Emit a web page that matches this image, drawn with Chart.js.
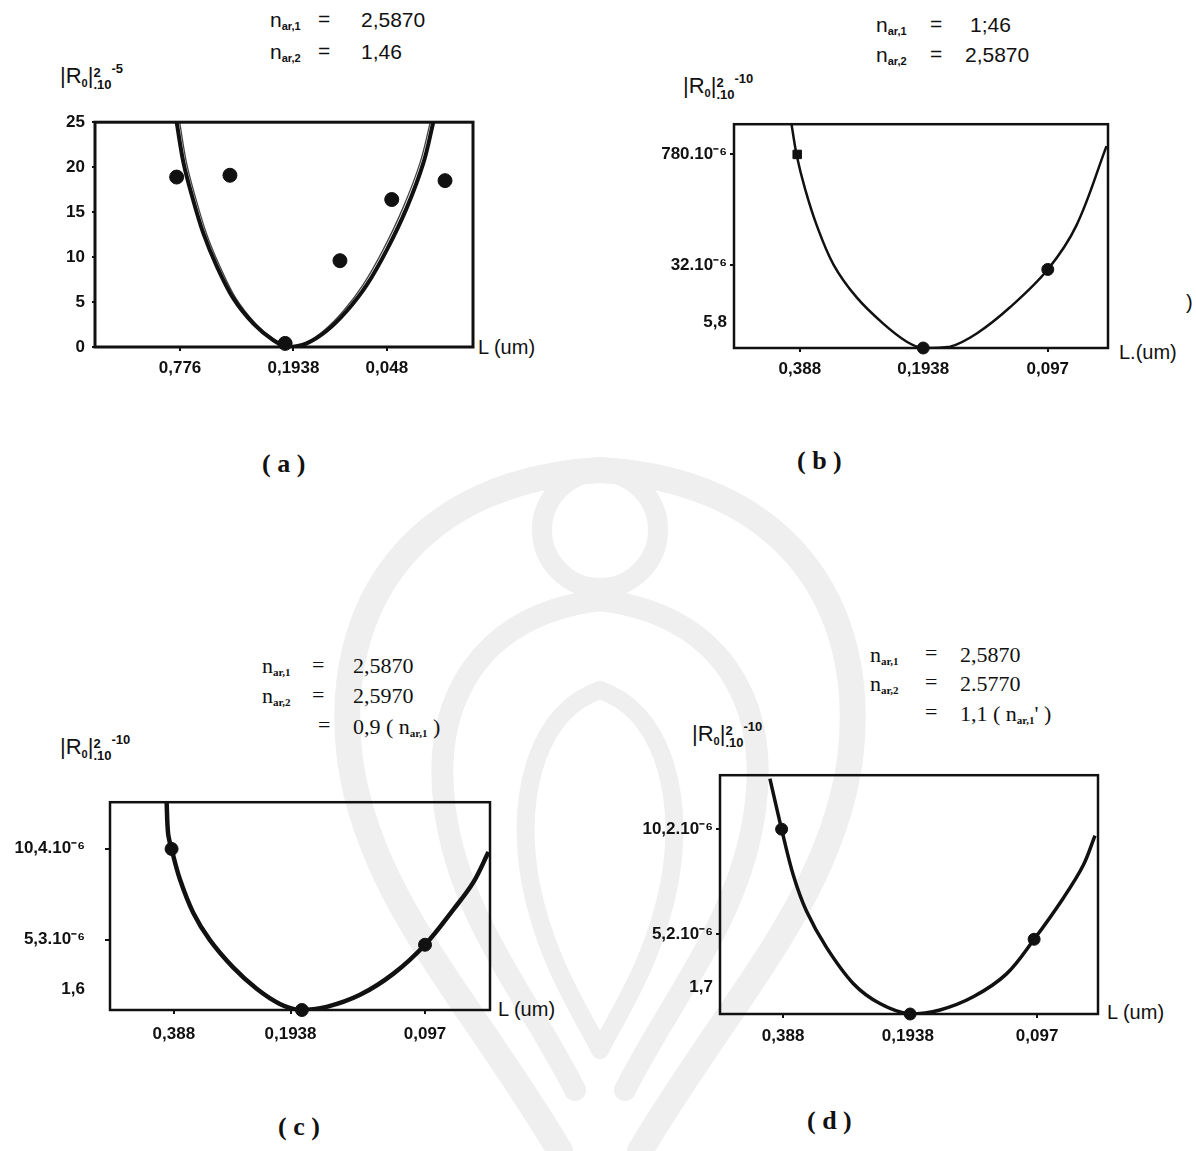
<!DOCTYPE html>
<html>
<head>
<meta charset="utf-8">
<script src="https://cdn.jsdelivr.net/npm/chart.js@4.4.0/dist/chart.umd.min.js"></script>
<style>
  html, body { margin: 0; padding: 0; background: #fff; }
  #page { position: relative; width: 1196px; height: 1151px; overflow: hidden; background: #fff; }
  #mark { position: absolute; left: 0; top: 0; }
  .panel { position: absolute; }
  .txt { position: absolute; color: #111; font-family: "Liberation Sans", Arial, sans-serif; white-space: nowrap; line-height: 1; }
  .ann { font-size: 21px; }
  .ann.serif { font-family: "Liberation Serif", "Times New Roman", serif; font-size: 22px; }
  .ann sub { font-size: 11px; vertical-align: -3px; font-weight: bold; }
  .ytitle { font-size: 22px; }
  .ytitle .r0 { font-size: 11px; vertical-align: -4px; font-weight: bold; }
  .stk { display: inline-block; vertical-align: -6px; font-size: 13px; line-height: 12px; font-weight: bold; }
  .stk span { display: block; }
  .ex { font-size: 13px; vertical-align: 10px; font-weight: bold; }
  .lum { font-size: 20px; }
  .cap { font-family: "Liberation Serif", "DejaVu Serif", serif; font-weight: bold; font-size: 26px; }
</style>
</head>
<body>
<div id="page">
  <!-- faint watermark of the scanned page -->
  <svg id="mark" width="1196" height="1151" viewBox="0 0 1196 1151">
    <g fill="none" stroke="#efefef" stroke-linecap="round">
      <circle cx="600" cy="530" r="58" stroke-width="20"/>
      <path d="M600 470 C420 480 330 600 350 760 C370 900 470 1000 560 1151" stroke-width="26"/>
      <path d="M600 470 C780 480 870 600 850 760 C830 900 730 1000 640 1151" stroke-width="26"/>
      <path d="M600 600 C480 615 430 700 445 810 C460 920 530 1000 575 1090" stroke-width="22"/>
      <path d="M600 600 C720 615 770 700 755 810 C740 920 670 1000 625 1090" stroke-width="22"/>
      <path d="M600 690 C540 710 515 790 530 880 C545 960 580 1010 600 1050" stroke-width="18"/>
      <path d="M600 690 C660 710 685 790 670 880 C655 960 620 1010 600 1050" stroke-width="18"/>
    </g>
  </svg>

  <!-- (a) -->
  <div class="txt ann" style="left:270px;top:9px">n<sub>ar,1</sub></div>
  <div class="txt ann" style="left:318px;top:8px">=</div>
  <div class="txt ann" style="left:361px;top:9px">2,5870</div>
  <div class="txt ann" style="left:270px;top:41px">n<sub>ar,2</sub></div>
  <div class="txt ann" style="left:318px;top:40px">=</div>
  <div class="txt ann" style="left:361px;top:41px">1,46</div>
  <div class="txt ytitle" style="left:60px;top:62px">|R<span class="r0">0</span>|<span class="stk"><span>2</span><span>.10</span></span><span class="ex">-5</span></div>
  <div class="txt lum" style="left:478px;top:337px">L (um)</div>
  <div class="txt cap" style="left:262px;top:451px">( a )</div>

  <!-- (b) -->
  <div class="txt ann" style="left:876px;top:14px">n<sub>ar,1</sub></div>
  <div class="txt ann" style="left:930px;top:13px">=</div>
  <div class="txt ann" style="left:970px;top:14px">1;46</div>
  <div class="txt ann" style="left:876px;top:44px">n<sub>ar,2</sub></div>
  <div class="txt ann" style="left:930px;top:43px">=</div>
  <div class="txt ann" style="left:965px;top:44px">2,5870</div>
  <div class="txt ytitle" style="left:683px;top:72px">|R<span class="r0">0</span>|<span class="stk"><span>2</span><span>.10</span></span><span class="ex">-10</span></div>
  <div class="txt lum" style="left:1119px;top:342px">L.(um)</div>
  <div class="txt lum" style="left:1186px;top:292px">)</div>
  <div class="txt cap" style="left:797px;top:448px">( b )</div>

  <!-- (c) -->
  <div class="txt ann serif" style="left:262px;top:655px">n<sub>ar,1</sub></div>
  <div class="txt ann serif" style="left:312px;top:654px">=</div>
  <div class="txt ann serif" style="left:353px;top:655px">2,5870</div>
  <div class="txt ann serif" style="left:262px;top:685px">n<sub>ar,2</sub></div>
  <div class="txt ann serif" style="left:312px;top:684px">=</div>
  <div class="txt ann serif" style="left:353px;top:685px">2,5970</div>
  <div class="txt ann serif" style="left:318px;top:714px">=</div>
  <div class="txt ann serif" style="left:353px;top:716px">0,9 ( n<sub>ar,1</sub> )</div>
  <div class="txt ytitle" style="left:60px;top:733px">|R<span class="r0">0</span>|<span class="stk"><span>2</span><span>.10</span></span><span class="ex">-10</span></div>
  <div class="txt lum" style="left:498px;top:999px">L (um)</div>
  <div class="txt cap" style="left:278px;top:1114px">( c )</div>

  <!-- (d) -->
  <div class="txt ann serif" style="left:870px;top:644px">n<sub>ar,1</sub></div>
  <div class="txt ann serif" style="left:925px;top:642px">=</div>
  <div class="txt ann serif" style="left:960px;top:644px">2,5870</div>
  <div class="txt ann serif" style="left:870px;top:673px">n<sub>ar,2</sub></div>
  <div class="txt ann serif" style="left:925px;top:671px">=</div>
  <div class="txt ann serif" style="left:960px;top:673px">2.5770</div>
  <div class="txt ann serif" style="left:925px;top:701px">=</div>
  <div class="txt ann serif" style="left:960px;top:703px">1,1 ( n<sub>ar,1</sub>' )</div>
  <div class="txt ytitle" style="left:692px;top:720px">|R<span class="r0">0</span>|<span class="stk"><span>2</span><span>.10</span></span><span class="ex">-10</span></div>
  <div class="txt lum" style="left:1107px;top:1002px">L (um)</div>
  <div class="txt cap" style="left:807px;top:1108px">( d )</div>
</div>

<script>
// ---- panel (a) : |R0|^2 .10^-5 ----
const aCurveX = [21.6, 23.4, 25.6, 28.7, 32.2, 36.6, 41.9, 47.2, 51.1, 56.0, 61.3, 66.6, 71.9, 77.2, 82.5, 86.9, 89.5];
const aCurveY = [25, 20.5, 16.9, 12.6, 9.0, 5.4, 2.6, 0.75, 0, 0.4, 1.8, 4.0, 6.9, 10.8, 15.5, 20.5, 25];
const aInnerX = [22.4, 24.2, 26.4, 29.5, 33.0, 37.3, 42.5, 47.7, 51.3, 55.4, 60.5, 65.7, 70.9, 76.2, 81.5, 86.0, 88.7];
const aInnerY = [25, 20.5, 16.9, 12.6, 9.0, 5.4, 2.6, 0.75, 0, 0.4, 1.8, 4.0, 6.9, 10.8, 15.5, 20.5, 25];
const aPointsX = [21.6, 35.7, 50.3, 64.8, 78.5, 92.6];
const aPointsY = [18.9, 19.1, 0.4, 9.6, 16.4, 18.5];
const aXTicks = [22.5, 52.5, 77.2];
const aXLabels = ['0,776', '0,1938', '0,048'];
const aYTicks = [0, 5, 10, 15, 20, 25];
const aYLabels = ['0', '5', '10', '15', '20', '25'];

// ---- panel (b) : nar1 = 1,46  nar2 = 2,5870 ----
const bCurveX = [15.4, 16.8, 19.0, 22.1, 26.6, 32.8, 39.9, 46.2, 50.6, 57.8, 64.9, 73.8, 83.9, 91.6, 99.6];
const bCurveY = [99.7, 85.8, 71.1, 54.9, 37.3, 22.6, 10.9, 2.8, 0, 0.6, 6.5, 18.2, 35.1, 54.9, 90.2];
const bPointsX = [16.9, 50.6, 83.9];
const bPointsY = [86.5, 0, 35.1];
const bXTicks = [17.6, 50.6, 83.9];
const bXLabels = ['0,388', '0,1938', '0,097'];
const bYTicks = [11.6, 37.0, 86.5];
const bYLabels = ['5,8', '32.10⁻⁶', '780.10⁻⁶'];

// ---- panel (c) : nar2 = 0,9 nar1 ----
const cCurveX = [14.9, 15.3, 16.2, 18.4, 21.9, 26.3, 32.4, 38.6, 44.7, 50.0, 57.0, 65.8, 74.6, 82.9, 90.3, 95.6, 99.6];
const cCurveY = [100, 84.8, 77.5, 62.9, 46.8, 33.6, 20.5, 10.2, 2.9, 0, 1.5, 7.3, 17.5, 31.4, 48.2, 61.4, 76.0];
const cPointsX = [16.2, 50.5, 82.9];
const cPointsY = [77.5, 0, 31.4];
const cXTicks = [16.8, 47.5, 82.9];
const cXLabels = ['0,388', '0,1938', '0,097'];
const cYTicks = [10.1, 33.8, 77.6];
const cYLabels = ['1,6', '5,3.10⁻⁶', '10,4.10⁻⁶'];

// ---- panel (d) : nar2 = 1,1 nar1 ----
const dCurveX = [13.2, 16.3, 19.4, 22.9, 28.2, 35.3, 42.3, 50.3, 58.2, 67.0, 75.8, 83.1, 90.8, 96.1, 99.2];
const dCurveY = [98.6, 77.4, 58.1, 43.0, 27.8, 12.7, 4.4, 0, 1.7, 7.2, 16.8, 31.3, 48.5, 62.3, 74.7];
const dPointsX = [16.3, 50.3, 83.1];
const dPointsY = [77.4, 0, 31.3];
const dXTicks = [16.7, 49.7, 83.9];
const dXLabels = ['0,388', '0,1938', '0,097'];
const dYTicks = [11.3, 33.3, 77.4];
const dYLabels = ['1,7', '5,2.10⁻⁶', '10,2.10⁻⁶'];

const INK = '#111';

// draws the closed box round the plot area
const framePlugin = {
    id: 'frame',
    afterDraw(chart, args, opts) {
        const { ctx, chartArea: a } = chart;
        ctx.save();
        ctx.strokeStyle = INK;
        ctx.lineWidth = opts.width || 2.5;
        ctx.strokeRect(a.left, a.top, a.right - a.left, a.bottom - a.top);
        ctx.restore();
    }
};

function toXY(xs, ys) {
    return xs.map((x, i) => ({ x: x, y: ys[i] }));
}

function curveSet(xs, ys, width, color) {
    return {
        data: toXY(xs, ys),
        showLine: true,
        borderColor: color || INK,
        borderWidth: width,
        pointRadius: 0,
        tension: 0.35
    };
}

function pointSet(xs, ys, radius, styles) {
    return {
        data: toXY(xs, ys),
        showLine: false,
        pointRadius: radius,
        pointStyle: styles || 'circle',
        pointBackgroundColor: INK,
        pointBorderColor: INK,
        pointBorderWidth: 1,
        clip: false
    };
}

// one panel: box = plot area in page pixels
function makePanel(p) {
    const padL = p.padL, padB = 44, padT = 10, padR = 10;
    const w = p.box.w + padL + padR;
    const h = p.box.h + padT + padB;

    const holder = document.createElement('div');
    holder.className = 'panel';
    holder.style.left = (p.box.x - padL) + 'px';
    holder.style.top = (p.box.y - padT) + 'px';
    const canvas = document.createElement('canvas');
    canvas.width = w;
    canvas.height = h;
    canvas.style.width = w + 'px';
    canvas.style.height = h + 'px';
    holder.appendChild(canvas);
    document.getElementById('page').appendChild(holder);

    const tickFont = { family: 'Liberation Sans', weight: 'bold', size: 17 };

    return new Chart(canvas.getContext('2d'), {
        type: 'scatter',
        data: { datasets: p.datasets },
        options: {
            responsive: false,
            animation: false,
            events: [],
            layout: { padding: { top: padT, right: padR, left: 0, bottom: 0 }, autoPadding: false },
            plugins: {
                legend: { display: false },
                tooltip: { enabled: false },
                frame: { width: p.frameWidth }
            },
            scales: {
                x: {
                    type: 'linear',
                    min: 0,
                    max: 100,
                    afterBuildTicks: ax => { ax.ticks = p.xTicks.map(v => ({ value: v })); },
                    afterFit: s => { s.height = padB; },
                    border: { display: false },
                    grid: { drawOnChartArea: false, tickLength: 4, color: INK, lineWidth: 2 },
                    ticks: {
                        autoSkip: false,
                        maxRotation: 0,
                        padding: p.xPad,
                        color: INK,
                        font: tickFont,
                        callback: (v, i) => p.xLabels[i]
                    }
                },
                y: {
                    type: 'linear',
                    min: 0,
                    max: p.yMax,
                    afterBuildTicks: ax => { ax.ticks = p.yTicks.map(v => ({ value: v })); },
                    afterFit: s => { s.width = padL; },
                    border: { display: false },
                    grid: {
                        drawOnChartArea: false,
                        tickLength: p.yTick,
                        lineWidth: 2,
                        color: ctx => (p.noTick === ctx.index ? 'rgba(0,0,0,0)' : INK)
                    },
                    ticks: {
                        autoSkip: false,
                        padding: p.yPad,
                        color: INK,
                        font: tickFont,
                        callback: (v, i) => p.yLabels[i]
                    }
                }
            }
        },
        plugins: [framePlugin]
    });
}

function initFigure() {
    makePanel({
        box: { x: 95, y: 115, w: 378, h: 232 },
        padL: 60, yMax: 25, yTick: 3, yPad: 7, xPad: 7, frameWidth: 3,
        xTicks: aXTicks, xLabels: aXLabels, yTicks: aYTicks, yLabels: aYLabels,
        datasets: [
            curveSet(aCurveX, aCurveY, 4),
            curveSet(aInnerX, aInnerY, 1.3, '#444'),
            pointSet(aPointsX, aPointsY, 7)
        ]
    });

    makePanel({
        box: { x: 734, y: 121, w: 374, h: 227 },
        padL: 110, yMax: 100, yTick: 4, yPad: 3, xPad: 7, frameWidth: 2.5, noTick: 0,
        xTicks: bXTicks, xLabels: bXLabels, yTicks: bYTicks, yLabels: bYLabels,
        datasets: [
            curveSet(bCurveX, bCurveY, 2.5),
            pointSet(bPointsX, bPointsY, 6, ['rect', 'circle', 'circle'])
        ]
    });

    makePanel({
        box: { x: 110, y: 782, w: 380, h: 228 },
        padL: 110, yMax: 100, yTick: 5, yPad: 20, xPad: 10, frameWidth: 2.5, noTick: 0,
        xTicks: cXTicks, xLabels: cXLabels, yTicks: cYTicks, yLabels: cYLabels,
        datasets: [
            curveSet(cCurveX, cCurveY, 4.5),
            pointSet(cPointsX, cPointsY, 6.5)
        ]
    });

    makePanel({
        box: { x: 720, y: 772, w: 378, h: 242 },
        padL: 110, yMax: 100, yTick: 4, yPad: 3, xPad: 8, frameWidth: 2.5, noTick: 0,
        xTicks: dXTicks, xLabels: dXLabels, yTicks: dYTicks, yLabels: dYLabels,
        datasets: [
            curveSet(dCurveX, dCurveY, 3.5),
            pointSet(dPointsX, dPointsY, 6)
        ]
    });
}

document.addEventListener('DOMContentLoaded', initFigure);
</script>
</body>
</html>
